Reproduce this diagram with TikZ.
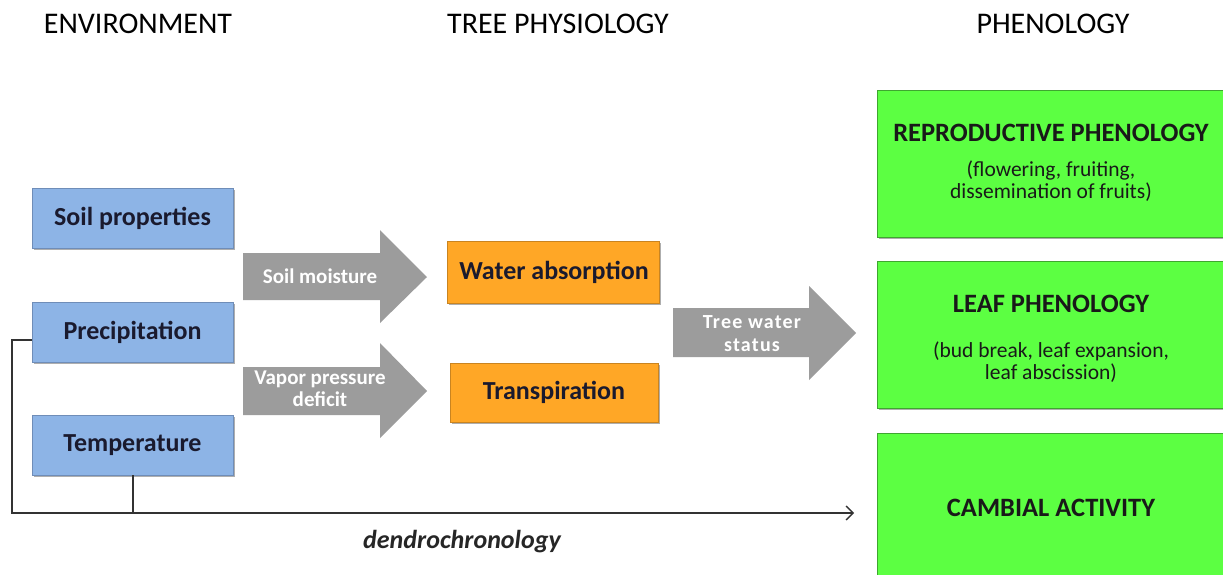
\documentclass[tikz,border=0pt]{standalone}
\usepackage{fontspec}
\setmainfont{Carlito}
\usetikzlibrary{shadows,arrows.meta}
\definecolor{envblue}{HTML}{8DB4E6}
\definecolor{envborder}{HTML}{6F8DB8}
\definecolor{physorange}{HTML}{FFA726}
\definecolor{physborder}{HTML}{C98420}
\definecolor{phengreen}{HTML}{5CFF42}
\definecolor{phenborder}{HTML}{3FA630}
\definecolor{arrowgray}{HTML}{9C9C9C}
\definecolor{darktext}{HTML}{1A1A2E}
\begin{document}
\begin{tikzpicture}[x=1pt,y=-1pt,
  header/.style={font=\fontsize{30}{34}\selectfont, text=black},
  boxshadow/.style={drop shadow={shadow xshift=1.5pt,shadow yshift=-2pt,opacity=0.45,fill=black!70}},
  envbox/.style={draw=envborder, fill=envblue, line width=0.8pt, boxshadow},
  physbox/.style={draw=physborder, fill=physorange, line width=0.8pt, boxshadow},
  phenbox/.style={draw=phenborder, fill=phengreen, line width=0.8pt, boxshadow},
  boxtext/.style={font=\bfseries\fontsize{26}{30}\selectfont, text=darktext},
  phentitle/.style={font=\bfseries\fontsize{26.5}{30}\selectfont, text=black!90},
  phensub/.style={font=\fontsize{21.5}{22}\selectfont, text=black!90, align=center},
  blockarrow/.style={fill=arrowgray},
  arrowlabel/.style={font=\bfseries\fontsize{21}{22}\selectfont, text=white, align=center},
  twslabel/.style={font=\bfseries\fontsize{20}{23}\selectfont\addfontfeature{LetterSpace=6}, text=white, align=center, inner sep=0pt},
  dendro/.style={line width=1.1pt, draw=black!80}
]
\useasboundingbox (0,0) rectangle (1223,574);
\fill[white] (0,0) rectangle (1223,574);

% headers
\node[header] (henv) at (138,24) {ENVIRONMENT};
\node[header] (hphys) at (558,24) {TREE PHYSIOLOGY};
\node[header] (hphen) at (1053,24) {PHENOLOGY};

% environment boxes
\draw[envbox] (32,188) rectangle (233,248);
\node[boxtext] (soil) at (132.5,218) {Soil properties};
\draw[envbox] (32,302) rectangle (233,362);
\node[boxtext] (prec) at (132.5,332) {Precipitation};
\draw[envbox] (32,415) rectangle (233,475);
\node[boxtext] (temp) at (132.5,445) {Temperature};

% physiology boxes
\draw[physbox] (447,241) rectangle (659,303);
\node[boxtext] (wabs) at (554,272) {Water absorption};
\draw[physbox] (450,363) rectangle (658,422);
\node[boxtext] (trans) at (554,392.5) {Transpiration};

% phenology boxes
\draw[phenbox] (877,90) rectangle (1226,237);
\node[phentitle] (repro) at (1051,133) {REPRODUCTIVE PHENOLOGY};
\node[phensub] (reprosub) at (1051,181) {(flowering, fruiting,\\dissemination of fruits)};
\draw[phenbox] (877,261) rectangle (1226,408);
\node[phentitle] (leaf) at (1051,304) {LEAF PHENOLOGY};
\node[phensub] (leafsub) at (1051,362) {(bud break, leaf expansion,\\leaf abscission)};
\draw[phenbox] (877,433) rectangle (1226,590);
\node[phentitle] (camb) at (1051,508) {CAMBIAL ACTIVITY};

% block arrows
\fill[blockarrow] (243,253) -- (380,253) -- (380,230) -- (427,277) -- (380,323) -- (380,300) -- (243,300) -- cycle;
\node[arrowlabel] (soilm) at (320,276) {Soil moisture};
\fill[blockarrow] (243,367) -- (380,367) -- (380,343) -- (427,391) -- (380,438) -- (380,415) -- (243,415) -- cycle;
\node[arrowlabel] (vpd) at (320,389) {Vapor pressure\\deficit};
\fill[blockarrow] (673,308) -- (809,308) -- (809,286) -- (856,333) -- (809,380) -- (809,357) -- (673,357) -- cycle;
\node[twslabel] (tws) at (752,334) {Tree water\\status};

% dendrochronology line
\coordinate (pw) at (32,340);
\coordinate (c1) at (12,340);
\coordinate (c2) at (12,513);
\coordinate (tj) at (133,513);
\coordinate (tb) at (133,475);
\coordinate (aend) at (854,513);
\draw[dendro] (pw) -- (c1) -- (c2) -- (tj);
\draw[dendro] (tb) -- (tj);
\draw[dendro, -{Straight Barb[length=7pt,width=14pt,line width=1.3pt]}] (tj) -- (aend);
\node[font=\bfseries\itshape\fontsize{26}{30}\selectfont, text=black!85] (dendrolabel) at (462,542) {dendrochronology};
\end{tikzpicture}
\end{document}
